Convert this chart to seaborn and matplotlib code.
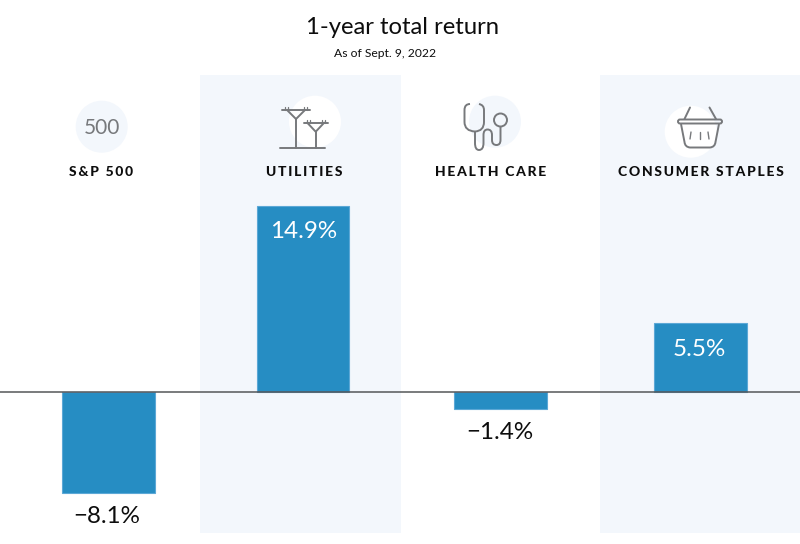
import numpy as np
import matplotlib
matplotlib.use('Agg')
import matplotlib.pyplot as plt
from matplotlib.patches import Circle, Rectangle, FancyBboxPatch, PathPatch
from matplotlib.path import Path
import seaborn as sns

sectors = ['S&P 500', 'UTILITIES', 'HEALTH CARE', 'CONSUMER STAPLES']
returns = [-8.1, 14.9, -1.4, 5.5]
value_labels = ['\u22128.1%', '14.9%', '\u22121.4%', '5.5%']
title = '1-year total return'
subtitle = 'As of Sept. 9, 2022'

BAR = '#268dc3'
BAND = '#f3f7fc'
ICON = '#77797c'
INK = '#0d0d0d'

sns.set_theme(style='white')
plt.rcParams['font.family'] = ['Lato', 'DejaVu Sans']

fig = plt.figure(figsize=(8, 5.44), dpi=100)

# pixel axes under the chart, for the shaded columns
bg = fig.add_axes([0, 0, 1, 1])
bg.set_xlim(0, 800)
bg.set_ylim(544, 0)
bg.axis('off')
bg.add_patch(Rectangle((200, 75), 201, 458, fc=BAND, ec='none'))
bg.add_patch(Rectangle((600, 75), 200, 458, fc=BAND, ec='none'))

ax = fig.add_axes([0, 0, 1, 1], facecolor='none')
sns.barplot(x=sectors, y=returns, color=BAR, saturation=1, width=93 / 197.2,
            edgecolor='#5ca8d6', linewidth=0.8, ax=ax)
ax.set_xlim(-108.5 / 197.2, (800 - 108.5) / 197.2)
ax.set_ylim(-(544 - 391.7) / 12.48, 391.7 / 12.48)
ax.axhline(0, color='#555759', lw=1.1, zorder=5)
ax.axis('off')

# columns in the original are not quite evenly spaced
nudge = [0, -2.7 / 197.2, -2 / 197.2, -0.1 / 197.2]
for bar, dx in zip(ax.patches, nudge):
    bar.set_x(bar.get_x() + dx)

label_dx = [-2, 1, -1.5, -1]
for i, (v, lab) in enumerate(zip(returns, value_labels)):
    off = -26 if v > 0 else -23.5
    col = 'white' if v > 0 else INK
    ax.annotate(lab, (i + nudge[i], v), xytext=(label_dx[i] * 0.72, off * 0.72),
                textcoords='offset points', ha='center', va='center',
                fontsize=17.4, color=col, zorder=6)

# pixel axes on top for text and icons
top = fig.add_axes([0, 0, 1, 1], facecolor='none')
top.set_xlim(0, 800)
top.set_ylim(544, 0)
top.axis('off')

top.text(403, 27.5, title, ha='center', va='center', fontsize=17.2, color=INK)
top.text(385, 53.5, subtitle, ha='center', va='center', fontsize=8.75, color=INK)

label_x = [101, 304, 490.5, 700.5]
for x, name in zip(label_x, sectors):
    top.text(x, 172, '\u200a\u200a'.join(name), ha='center', va='center', fontsize=10,
             fontweight='black', color=INK)

line = dict(color=ICON, lw=1.4, solid_capstyle='round', solid_joinstyle='round')

# S&P 500 badge
top.add_patch(Circle((101.7, 126.7), 26, fc=BAND, ec='none'))
top.text(101.7, 127.5, '500', ha='center', va='center', fontsize=15, color=ICON)

# utilities: two pylons
top.add_patch(Circle((315, 121.7), 26, fc='white', ec='none'))
top.plot([280, 325], [147.7, 147.7], **line)
for px, arm, y0, half in [(296, 14, 110, 9), (315.7, 12, 122.7, 8.5)]:
    top.plot([px, px], [y0 + 9, 147.7], **line)
    top.plot([px - arm, px + arm], [y0, y0], **line)
    top.plot([px - half, px, px + half], [y0, y0 + 9, y0], **line)
    for dx in (-arm + 3, -arm + 6, arm - 6, arm - 3):
        top.plot([px + dx, px + dx], [y0 - 3, y0], color=ICON, lw=0.9)

# health care: stethoscope
top.add_patch(Circle((495, 121.7), 26, fc=BAND, ec='none'))
verts = [(470, 104), (464.5, 104), (464.5, 110),
         (464.5, 122), (464.5, 131), (475, 131.5),
         (484, 131), (484, 122), (484, 110),
         (484, 105), (479, 104)]
codes = [Path.MOVETO, Path.CURVE3, Path.CURVE3,
         Path.LINETO, Path.CURVE3, Path.CURVE3,
         Path.CURVE3, Path.CURVE3, Path.LINETO,
         Path.CURVE3, Path.CURVE3]
top.add_patch(PathPatch(Path(verts, codes), fc='none', ec=ICON, lw=1.4))
verts2 = [(475, 131.5), (475, 143), (475, 150), (479, 150), (483.5, 150), (483.5, 143),
          (483.5, 135), (483.5, 129.5), (487.5, 129.5), (492, 129.5), (492, 135),
          (492, 140), (492, 145), (496.5, 145), (500.5, 145), (500.5, 140), (500.5, 127)]
codes2 = [Path.MOVETO, Path.LINETO, Path.CURVE3, Path.CURVE3, Path.CURVE3, Path.CURVE3,
          Path.LINETO, Path.CURVE3, Path.CURVE3, Path.CURVE3, Path.CURVE3,
          Path.LINETO, Path.CURVE3, Path.CURVE3, Path.CURVE3, Path.CURVE3, Path.LINETO]
top.add_patch(PathPatch(Path(verts2, codes2), fc='none', ec=ICON, lw=1.4))
top.add_patch(Circle((500.5, 120), 6.5, fc='none', ec=ICON, lw=1.4))

# consumer staples: basket
top.add_patch(Circle((690.7, 131.7), 26, fc='white', ec='none'))
top.plot([690, 684.5], [107.5, 119], **line)
top.plot([709.5, 716], [107.5, 119], **line)
top.add_patch(FancyBboxPatch((678, 119.5), 44, 4, boxstyle='round,pad=0,rounding_size=2',
                             fc='none', ec=ICON, lw=1.4))
verts3 = [(681, 124), (684.5, 142), (685, 147), (690, 147.5),
          (710, 147.5), (715, 147), (715.5, 142), (719, 124)]
codes3 = [Path.MOVETO, Path.LINETO, Path.CURVE3, Path.CURVE3,
          Path.LINETO, Path.CURVE3, Path.CURVE3, Path.LINETO]
top.add_patch(PathPatch(Path(verts3, codes3), fc='none', ec=ICON, lw=1.4))
for x0, x1 in [(691, 690), (699.5, 699.5), (708, 709)]:
    top.plot([x0, x1], [132, 139], color=ICON, lw=1.0, solid_capstyle='round')

fig.savefig('out.png', dpi=100)
